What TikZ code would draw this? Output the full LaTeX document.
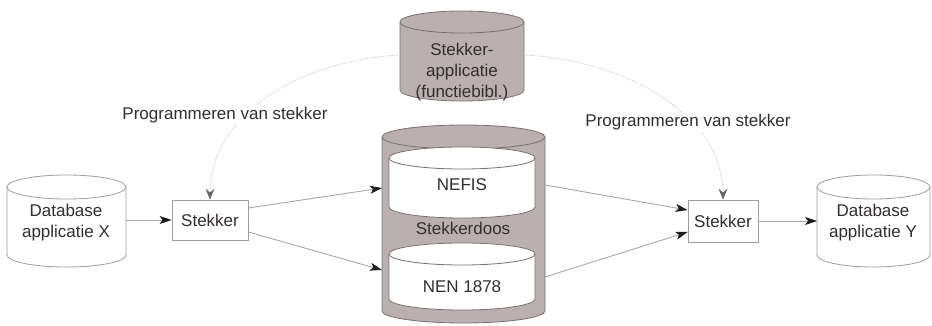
\documentclass[tikz,border=0pt]{standalone}
\usepackage{fontspec}
\setmainfont{Liberation Sans}
\usetikzlibrary{arrows.meta,calc}

\definecolor{plug}{RGB}{186,176,176}
\definecolor{plugedge}{RGB}{120,112,112}
\definecolor{lightedge}{RGB}{160,156,156}
\definecolor{ink}{RGB}{50,46,46}
\definecolor{wire}{RGB}{170,166,166}
\definecolor{tipink}{RGB}{30,28,28}

% upright cylinder: centre x, radius x, top-ellipse y, bottom-ellipse y, radius y, style
\newcommand\uprightcyl[6]{%
  \path[#6] (#1-#2,#3) -- (#1-#2,#4)
    arc[start angle=180,end angle=360,x radius=#2,y radius=#5]
    -- (#1+#2,#3)
    arc[start angle=0,end angle=180,x radius=#2,y radius=#5] -- cycle;
  \path[#6,fill=none] (#1-#2,#3)
    arc[start angle=180,end angle=360,x radius=#2,y radius=#5];
}

\tikzset{
  txt/.style={text=ink,font=\fontsize{17}{21}\selectfont,align=center,inner sep=1pt},
  plugbox/.style={draw=lightedge,fill=white,line width=0.8pt,text=ink,
    font=\fontsize{17}{21}\selectfont,inner sep=2pt},
  flow/.style={draw=wire,line width=0.9pt,
    -{Stealth[length=12pt,width=8pt,inset=3pt,color=tipink]}},
  prog/.style={draw=gray!45,line width=0.8pt,densely dotted,
    -{Stealth[length=11pt,width=9pt,inset=4pt,color=gray!80!black]}},
}

\begin{document}
\begin{tikzpicture}[x=1pt,y=1pt]
  \useasboundingbox (0,0) rectangle (932,325);

  % cylinders
  \uprightcyl{462}{62}{303}{235}{11}{fill=plug,draw=plugedge,line width=0.8pt}
  \uprightcyl{463.5}{81.5}{188}{14}{12}{fill=plug,draw=plugedge,line width=0.8pt}
  \uprightcyl{462}{73}{167}{118}{11}{fill=white,draw=plugedge,line width=0.8pt}
  \uprightcyl{462}{73}{71}{26}{11}{fill=white,draw=plugedge,line width=0.8pt}
  \uprightcyl{66.5}{59.5}{138}{70}{12}{fill=white,draw=lightedge,line width=0.8pt}
  \uprightcyl{873.5}{56.5}{138}{70}{12}{fill=white,draw=lightedge,line width=0.8pt}

  % texts inside the cylinders
  \node[txt] (app) at (462,253) {Stekker-\\applicatie\\(functiebibl.)};
  \node[txt] (nefis) at (462,140) {NEFIS};
  \node[txt] (doos) at (463,97) {Stekkerdoos};
  \node[txt] (nen) at (462,38) {NEN 1878};
  \node[txt] (dbx) at (66,102) {Database\\applicatie X};
  \node[txt] (dby) at (873,102) {Database\\applicatie Y};

  % plug boxes
  \node[plugbox,minimum width=76pt,minimum height=40pt] (stekL) at (210,105) {Stekker};
  \node[plugbox,minimum width=70pt,minimum height=42pt] (stekR) at (723,104) {Stekker};

  % points on the cylinder walls
  \coordinate (dbxE) at (126,105);
  \coordinate (dbyW) at (817,104);
  \coordinate (nefisW) at (382,137);
  \coordinate (nenW) at (382,55);
  \coordinate (nefisE) at (545,140);
  \coordinate (nenE) at (545,48);
  \coordinate (appW) at (400,270);
  \coordinate (appE) at (524,270);

  % data flow
  \draw[flow] (dbxE) -- (stekL.west);
  \draw[flow] ([yshift=12pt]stekL.east) -- (nefisW);
  \draw[flow] ([yshift=-12pt]stekL.east) -- (nenW);
  \draw[flow] (nefisE) -- ([yshift=11pt]stekR.west);
  \draw[flow] (nenE) -- ([yshift=-11pt]stekR.west);
  \draw[flow] (stekR.east) -- (dbyW);

  % programming the plugs
  \draw[prog] (appW) .. controls (300,265) and (210,210) .. (stekL.north);
  \draw[prog] (appE) .. controls (625,265) and (723,210) .. (stekR.north);

  \node[txt,fill=white,inner sep=2pt] (progL) at (225,210) {Programmeren van stekker};
  \node[txt,fill=white,inner sep=2pt] (progR) at (688,203) {Programmeren van stekker};
\end{tikzpicture}
\end{document}
